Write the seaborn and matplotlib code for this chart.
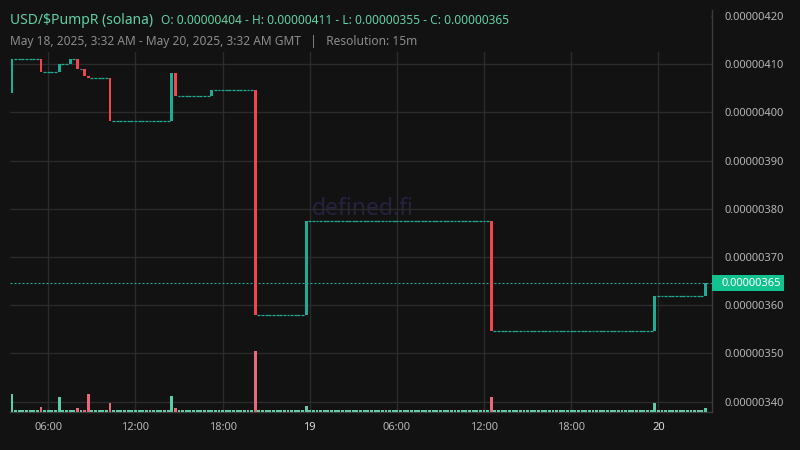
import numpy as np
import pandas as pd
import matplotlib
matplotlib.use("Agg")
import matplotlib.pyplot as plt
import seaborn as sns
from matplotlib.patches import Rectangle

# ---------------- data ----------------
pair_title = "USD/$PumpR (solana)"
range_text = "May 18, 2025, 3:32 AM - May 20, 2025, 3:32 AM GMT   |   Resolution: 15m"
start_time = "2025-05-18 03:30"
n_bars = 192  # 15-minute bars
price_unit = 1e-8

# candles where a trade happened (price in units of 1e-8), volume in arbitrary units
trade_times = ["2025-05-18 03:30", "2025-05-18 05:30", "2025-05-18 06:45", "2025-05-18 07:30",
               "2025-05-18 08:00", "2025-05-18 08:30", "2025-05-18 08:45", "2025-05-18 10:15",
               "2025-05-18 14:30", "2025-05-18 14:45", "2025-05-18 17:15", "2025-05-18 20:15",
               "2025-05-18 23:45", "2025-05-19 12:30", "2025-05-19 23:45", "2025-05-20 03:15"]
trade_open = [404.0, 411.0, 408.4, 410.0, 411.1, 409.0, 407.6, 407.2,
              398.3, 408.2, 403.5, 404.6, 357.9, 377.4, 354.6, 361.9]
trade_close = [411.0, 408.4, 410.0, 411.1, 408.9, 407.6, 407.2, 398.3,
               408.2, 403.5, 404.6, 357.9, 377.4, 354.6, 361.9, 364.6]
trade_volume = [165, 35, 135, 0, 25, 0, 165, 75,
                145, 25, 0, 595, 45, 135, 75, 25]

price_ticks = [340, 350, 360, 370, 380, 390, 400, 410, 420]
tick_times = ["2025-05-18 06:00", "2025-05-18 12:00", "2025-05-18 18:00", "2025-05-19 00:00",
              "2025-05-19 06:00", "2025-05-19 12:00", "2025-05-19 18:00", "2025-05-20 00:00"]
tick_labels = ["06:00", "12:00", "18:00", "19", "06:00", "12:00", "18:00", "20"]
day_labels = ["19", "20"]

# ---------------- style ----------------
BG = "#121212"
GRID = "#2b2b2b"
UP = "#22ab94"
DOWN = "#f2454f"
VOL_UP = "#5ccca5"
VOL_DOWN = "#e8697a"
LABEL_BOX = "#12c28f"
TXT = "#b4b4b4"
FONT = ["Noto Sans", "DejaVu Sans"]

sns.set_theme(style="dark", rc={"axes.facecolor": BG, "figure.facecolor": BG})
plt.rcParams["font.family"] = FONT

# ---------------- build table ----------------
times = pd.date_range(start_time, periods=n_bars, freq="15min")
df = pd.DataFrame({"time": times})
trades = pd.DataFrame({"time": pd.to_datetime(trade_times), "open": trade_open,
                       "close": trade_close, "volume": trade_volume})
df = df.merge(trades, on="time", how="left")
df["close"] = df["close"].ffill()
df["open"] = df["open"].fillna(df["close"])
df["volume"] = df["volume"].fillna(0)
df["idx"] = np.arange(n_bars)
df["up"] = df["close"] >= df["open"]
df["flat"] = np.isclose(df["close"], df["open"])
df["o"] = df["open"] * price_unit
df["c"] = df["close"] * price_unit

tick_idx = [(pd.Timestamp(t) - times[0]) / pd.Timedelta("15min") for t in tick_times]

# ---------------- figure ----------------
W, H = 800, 450
fig = plt.figure(figsize=(8, 4.5), dpi=100, facecolor=BG)
rect = [10 / W, 38 / H, 702 / W, 402 / H]
ax = fig.add_axes(rect)
ax_v = fig.add_axes(rect, sharex=ax)
ax_v.patch.set_alpha(0)

ax.set_xlim(-0.55, 192.78)
ax.set_ylim(337.84 * price_unit, 421.24 * price_unit)

# grid
ax.set_yticks([p * price_unit for p in price_ticks])
ax.set_yticklabels([f"{p * price_unit:.8f}" for p in price_ticks])
ax.set_xticks(tick_idx)
ax.set_xticklabels(tick_labels)
ax.grid(True, color=GRID, lw=1.0)
ax.yaxis.tick_right()
ax.tick_params(axis="y", length=0, pad=9, labelsize=8, labelcolor=TXT)
ax.tick_params(axis="x", length=0, pad=7, labelsize=8, labelcolor=TXT)
for lab in ax.get_xticklabels():
    if lab.get_text() in day_labels:
        lab.set_fontweight("bold")
        lab.set_color("#dcdcdc")
for s in ["top", "left"]:
    ax.spines[s].set_visible(False)
for s in ["right", "bottom"]:
    ax.spines[s].set_visible(True)
    ax.spines[s].set_color("#3c3c3c")
    ax.spines[s].set_linewidth(1.0)

# watermark
ax.text(0.503, 0.505, "defined.fi", transform=ax.transAxes, ha="center", va="center",
        fontsize=16.5, color="#25223e", zorder=0, family=FONT)

# candles
bw = 0.8
moving = df[~df["flat"]]
ax.bar(moving["idx"], moving["c"] - moving["o"], bottom=moving["o"], width=bw,
       color=np.where(moving["up"], UP, DOWN), linewidth=0, zorder=3)
flat = df[df["flat"]]
ax.hlines(flat["c"], flat["idx"] - bw / 2, flat["idx"] + bw / 2, color=UP, lw=0.9, zorder=3)

# last price line + label box on the price scale
last = df["c"].iloc[-1]
ax.axhline(last, color=UP, lw=0.8, ls=(0, (1.8, 1.8)), zorder=2)
y_px = ax.transData.transform((0, last))[1]
x_axis_px = (rect[0] + rect[2]) * W
fig.add_artist(Rectangle((x_axis_px / W, (y_px - 8) / H), 72 / W, 16 / H,
                         transform=fig.transFigure, facecolor=LABEL_BOX, edgecolor="none",
                         zorder=3))
fig.text((x_axis_px + 10) / W, y_px / H, f"{last:.8f}", fontsize=8, color="white",
         ha="left", va="center", zorder=4, family=FONT)

# volume
vmax = df["volume"].max()
vol_top = vmax / 0.148
floor = vol_top * 1.4 / 402
ax_v.set_ylim(-floor * 1.3, vol_top)
ax_v.bar(df["idx"], df["volume"] + floor, bottom=-floor, width=bw,
         color=np.where(df["up"], VOL_UP, VOL_DOWN), linewidth=0, zorder=4)
ax_v.set_yticks([])
ax_v.tick_params(axis="x", length=0, labelbottom=False)
for s in ax_v.spines.values():
    s.set_visible(False)
ax_v.grid(False)

# header cover + texts
fig.add_artist(Rectangle((10 / W, 1 - 52 / H), 701 / W, 42 / H, transform=fig.transFigure,
                         facecolor=BG, edgecolor="none", zorder=2))
o0 = df["open"].iloc[0] * price_unit
hi = df[["open", "close"]].max().max() * price_unit
lo = df[["open", "close"]].min().min() * price_unit
cl = df["close"].iloc[-1] * price_unit
fig.text(10 / W, 1 - 20.5 / H, pair_title, fontsize=10, color="#5fd0a6", va="center",
         zorder=3, family=FONT)
fig.text(161 / W, 1 - 20.5 / H, f"O: {o0:.8f} - H: {hi:.8f} - L: {lo:.8f} - C: {cl:.8f}",
         fontsize=8.6, color="#5fd0a6", va="center", zorder=3, family=FONT)
fig.text(10 / W, 1 - 41 / H, range_text, fontsize=8.6, color="#8c8c8c", va="center",
         zorder=3, family=FONT)

fig.savefig("out.png", dpi=100, facecolor=BG)
